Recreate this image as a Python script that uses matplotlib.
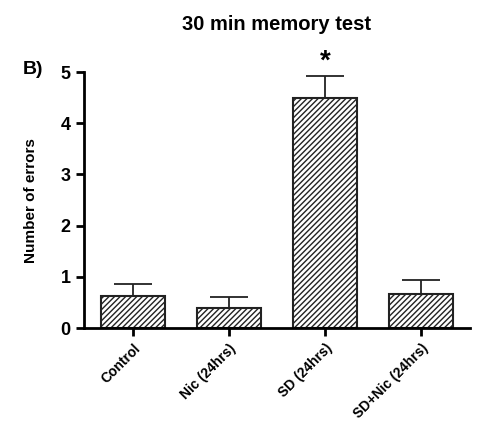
import matplotlib.pyplot as plt

plt.rcParams['font.family'] = ['Liberation Sans', 'DejaVu Sans']
plt.rcParams['font.weight'] = 'bold'
plt.rcParams['hatch.linewidth'] = 1.0

groups = ['Control', 'Nic (24hrs)', 'SD (24hrs)', 'SD+Nic (24hrs)']
errors = [0.63, 0.39, 4.5, 0.66]
sem = [0.24, 0.22, 0.42, 0.28]
yticks = [0, 1, 2, 3, 4, 5]

fig = plt.figure(figsize=(5, 4.34), dpi=100)
ax = fig.add_axes([0.168, 0.244, 0.772, 0.59])

x = list(range(len(groups)))
ax.bar(x, errors, width=0.667, color='white', edgecolor='#222222',
       linewidth=1.5, hatch='//////')
ax.errorbar(x, errors, yerr=[[0] * len(sem), sem], fmt='none',
            ecolor='#222222', elinewidth=1.3, capsize=14, capthick=1.3)

ax.text(2, errors[2] + sem[2] + 0.02, '*', ha='center', va='bottom',
        fontsize=20, fontweight='bold', clip_on=False)

ax.set_xlim(-0.51, 3.51)
ax.set_ylim(0, 5)
ax.set_yticks(yticks)
ax.set_yticklabels([str(t) for t in yticks], fontsize=13, fontweight='bold')
ax.set_xticks(x)
ax.set_xticklabels(groups, rotation=45, ha='right', rotation_mode='anchor',
                   fontsize=10, fontweight='bold')

for side in ['top', 'right']:
    ax.spines[side].set_visible(False)
for side in ['left', 'bottom']:
    ax.spines[side].set_linewidth(2)
ax.tick_params(axis='both', width=2, length=6, direction='out')

ax.set_ylabel('Number of errors', fontsize=11, fontweight='bold', labelpad=16)
fig.text(0.552, 0.944, '30 min memory test', ha='center', va='center',
         fontsize=14.5, fontweight='bold')
fig.text(0.045, 0.84, 'B)', ha='left', va='center', fontsize=14,
         fontweight='bold')

fig.savefig('out.png', dpi=100)
